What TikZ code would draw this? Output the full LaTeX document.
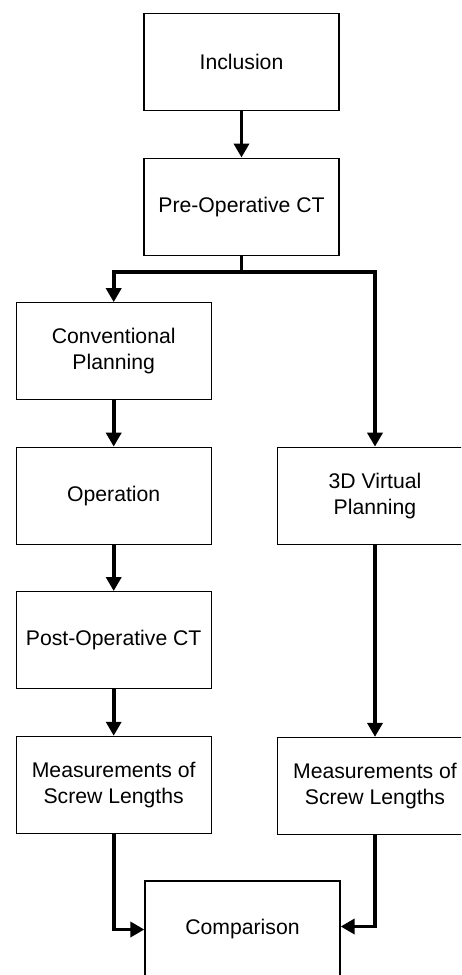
\documentclass[tikz,border=0pt]{standalone}
\usepackage{fontspec}
\setmainfont{Liberation Sans}
\usetikzlibrary{arrows.meta}
\begin{document}
\begin{tikzpicture}[x=1pt,y=-1pt,
  box/.style={draw=black,line width=1.3pt,minimum width=195pt,minimum height=97pt,
    align=center,inner sep=0pt,font=\fontsize{21.2}{26}\selectfont,fill=white},
  arr/.style={line width=3.6pt,-{Triangle[width=15pt,length=14pt]}}]
\useasboundingbox (0,0) rectangle (461,975);
\clip (0,0) rectangle (461,975);
\fill[white] (0,0) rectangle (461,975);
\node[box] (inc) at (241.5,62.2) {Inclusion};
\node[box] (pre) at (241.5,206.7) {Pre-Operative CT};
\node[box] (conv) at (113.7,351.3) {Conventional\\Planning};
\node[box] (op) at (113.7,495.8) {Operation};
\node[box] (post) at (113.7,640.2) {Post-Operative CT};
\node[box] (measl) at (113.7,784.9) {Measurements of\\Screw Lengths};
\node[box] (virt) at (375,495.8) {3D Virtual\\Planning};
\node[box] (measr) at (375,786) {Measurements of\\Screw Lengths};
\node[box] (comp) at (242.5,929.5) {Comparison};
\coordinate (split) at (241.5,272);
\draw[arr] (inc) -- (pre);
\draw[line width=3.6pt] (pre.south) -- (split);
\draw[arr] (split) -| (conv.north);
\draw[arr] (split) -| (virt.north);
\draw[arr] (conv) -- (op);
\draw[arr] (op) -- (post);
\draw[arr] (post) -- (measl);
\draw[arr] (virt) -- (measr);
\draw[arr] (measl.south) |- (comp.west);
\draw[arr] (measr.south) |- ([yshift=3pt]comp.east);
\end{tikzpicture}
\end{document}
